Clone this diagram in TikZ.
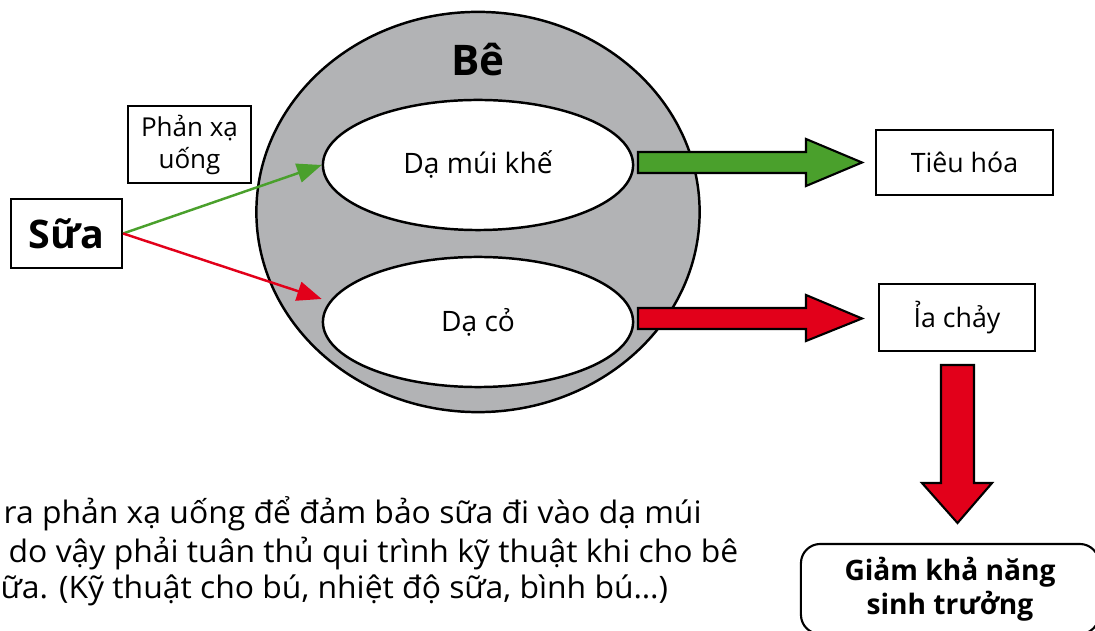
\documentclass[tikz,border=0pt]{standalone}
\usepackage{fontspec}
\setmainfont{Open Sans}
\newfontfamily\widefont{Open Sans}[FakeStretch=1.03]
\usetikzlibrary{shapes.geometric, arrows.meta}
\definecolor{begray}{RGB}{178,179,181}
\definecolor{okgreen}{RGB}{74,160,44}
\definecolor{badred}{RGB}{226,0,26}

\begin{document}
\begin{tikzpicture}[x=0.01cm, y=-0.01cm,
  box/.style={draw, line width=0.6pt, inner sep=0pt, font=\fontsize{7.6}{9}\selectfont},
  pouch/.style={draw, ellipse, line width=0.7pt, fill=white, inner sep=0pt,
    minimum width=3.1cm, minimum height=1.3cm, font=\fontsize{8}{10}\selectfont},
  feed/.style={line width=0.7pt, -{Triangle[length=7pt, width=5.5pt]}},
  fatarrow/.style={draw, line width=0.6pt, line join=miter},
  note/.style={anchor=base west, inner sep=0pt, font=\widefont\fontsize{8.8}{10}\selectfont}]
\useasboundingbox (0,0) rectangle (1095,631);

% con be va hai da day
\node[ellipse, draw, line width=0.7pt, fill=begray, inner sep=0pt,
  minimum width=4.43cm, minimum height=4cm] (be) at (478,212) {};
\node[font=\bfseries\fontsize{12}{14}\selectfont] (betxt) at (478,60) {Bê};
\node[pouch] (muikhe) at (478,165) {Dạ múi khế};
\node[pouch] (daco) at (478,322) {Dạ cỏ};

% sua vao
\node[box, minimum width=1.11cm, minimum height=0.69cm,
  font=\bfseries\fontsize{11.2}{13}\selectfont] (sua) at (66.5,233.5) {Sữa};
\node[box, minimum width=1.23cm, minimum height=0.77cm, align=center,
  font=\fontsize{7.4}{9.1}\selectfont] (phanxa) at (189.5,144.5) {Phản xạ\\uống};

\draw[feed, okgreen] (sua.east) -- (muikhe.west);
\draw[feed, badred] (sua.east) -- ([yshift=0.23cm]daco.west);

% ket qua
\node[box, minimum width=1.77cm, minimum height=0.65cm] (tieuhoa) at (964.5,162.5) {Tiêu hóa};
\node[box, minimum width=1.56cm, minimum height=0.67cm] (iachay) at (957,317.5) {Ỉa chảy};
\node[draw, line width=0.6pt, rounded corners=5.5pt, inner sep=0pt, align=center,
  minimum width=2.98cm, minimum height=0.9cm,
  font=\bfseries\fontsize{8}{7.8}\selectfont] (giam) at (950,589) {Giảm khả năng\\sinh trưởng};

\draw[fatarrow, fill=okgreen] (638,152) -- (806,152) -- (806,139) -- (862,162.5)
  -- (806,186) -- (806,173) -- (638,173) -- cycle;
\draw[fatarrow, fill=badred] (638,308) -- (806,308) -- (806,295) -- (862,318.5)
  -- (806,341) -- (806,329) -- (638,329) -- cycle;
\draw[fatarrow, fill=badred] (941,365) -- (974,365) -- (974,483) -- (992,483)
  -- (957.5,523) -- (922,483) -- (941,483) -- cycle;

% ghi chu
\node[note] (note1) at (3,523) {ra phản xạ uống để đảm bảo sữa đi vào dạ múi};
\node[note] (note2) at (8,562) {do vậy phải tuân thủ qui trình kỹ thuật khi cho bê};
\node[note] (note3) at (0,598) {ữa. (Kỹ thuật cho bú, nhiệt độ sữa, bình bú…)};

\end{tikzpicture}
\end{document}
